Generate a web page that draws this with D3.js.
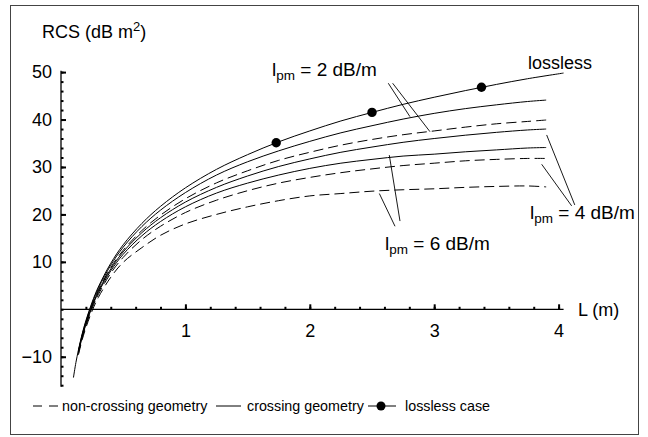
<!DOCTYPE html>
<html><head><meta charset="utf-8">
<script src="https://cdn.jsdelivr.net/npm/d3@7"></script>
<style>body{margin:0;background:#fff}text{font-family:"Liberation Sans",Arial,sans-serif;fill:#000}</style>
</head><body><svg id="c" width="648" height="437"></svg>
<script>
// ---- data ----
const xLossless = [0.1,0.12,0.14,0.17,0.2,0.25,0.3,0.4,0.5,0.65,0.8,1.0,1.25,1.5,1.75,2.0,2.25,2.5,2.75,3.0,3.25,3.5,3.75,4.04];
const lossless  = [-14.4,-11.2,-8.6,-5.2,-2.4,1.5,4.7,9.7,13.6,18.1,21.7,25.6,29.5,32.6,35.3,37.6,39.7,41.5,43.2,44.7,46.1,47.4,48.6,49.8];
const xLossy = [0.14,0.17,0.2,0.25,0.3,0.4,0.5,0.65,0.8,1.0,1.25,1.5,1.75,2.0,2.25,2.5,2.75,3.0,3.25,3.5,3.75,3.9];
const crossing2    = [-8.75,-5.37,-2.6,1.25,4.4,9.3,13.1,17.45,20.9,24.6,28.3,31.1,33.4,35.4,37.2,38.7,40.1,41.3,42.3,43.1,43.8,44.1];
const nonCrossing2 = [-8.9,-5.6,-2.85,0.9,4.0,8.8,12.45,16.6,19.85,23.3,26.65,29.2,31.4,33.1,34.6,35.8,36.8,37.6,38.4,39.1,39.6,39.9];
const crossing4    = [-9.0,-5.7,-3.0,0.75,3.8,8.5,12.1,16.15,19.3,22.6,25.7,28.1,30.1,31.7,33.1,34.2,35.2,36.0,36.7,37.3,37.8,38.0];
const crossing6    = [-9.15,-5.9,-3.2,0.5,3.5,8.1,11.6,15.5,18.5,21.6,24.5,26.6,28.3,29.7,30.8,31.6,32.3,32.7,33.2,33.6,34.0,34.1];
const nonCrossing4 = [-9.35,-6.1,-3.45,0.2,3.1,7.6,10.95,14.7,17.5,20.4,23.0,25.0,26.6,27.8,28.8,29.6,30.3,30.8,31.3,31.6,31.8,31.8];
const nonCrossing6 = [-9.6,-6.45,-3.9,-0.35,2.5,6.75,9.9,13.0,15.6,18.0,20.0,21.6,22.9,23.9,24.4,24.9,25.2,25.4,25.7,25.9,26.0,25.8];
const dotX = [1.73,2.5,3.38];
const dotY = [35.1,41.5,46.8];
const xTicks = [1,2,3,4];
const yTicks = [-10,10,20,30,40,50];
const xMinor = d3.range(0.2,4.01,0.2);
const yMinor = d3.range(-16,50.1,2);
// leader lines [x1,y1,x2,y2] in data units
const leaders2 = [[2.631,47.65,2.805,40.61],[2.666,47.65,2.966,37.44]];
const leaders4 = [[3.904,36.75,4.13,22.0],[3.864,30.57,4.105,21.8]];
const leaders6 = [[2.639,32.5,2.725,18.6],[2.559,24.4,2.685,17.5]];

const svg = d3.select('#c');
const x = d3.scaleLinear().domain([0,4]).range([61,558.6]);
const y = d3.scaleLinear().domain([0,50]).range([309.3,72.1]);

svg.append('rect').attr('x',10.5).attr('y',5.5).attr('width',628).attr('height',429)
  .attr('fill','none').attr('stroke','#444').attr('stroke-width',1);

// axes lines
svg.append('line').attr('x1',x(0)).attr('x2',x(0)).attr('y1',y(-16.3)).attr('y2',y(50.3)).attr('stroke','#000').attr('stroke-width',1.3);
svg.append('line').attr('x1',x(0)).attr('x2',x(4.04)).attr('y1',y(0)).attr('y2',y(0)).attr('stroke','#000').attr('stroke-width',1.3);

const gy = svg.append('g').attr('transform',`translate(${x(0)},0)`);
gy.call(d3.axisLeft(y).tickValues(yMinor).tickSizeInner(-2.5).tickSizeOuter(0).tickFormat(''));
gy.call(g=>g.select('.domain').remove());
const gy2 = svg.append('g').attr('transform',`translate(${x(0)},0)`);
gy2.call(d3.axisLeft(y).tickValues(yTicks).tickSizeInner(-5).tickSizeOuter(0).tickPadding(9));
gy2.select('.domain').remove();
gy2.selectAll('text').attr('font-size',18).attr('font-family','"Liberation Sans",Arial,sans-serif');

const gx = svg.append('g').attr('transform',`translate(0,${y(0)})`);
gx.call(d3.axisBottom(x).tickValues(xMinor).tickSizeInner(-2.5).tickSizeOuter(0).tickFormat(''));
gx.select('.domain').remove();
const gx2 = svg.append('g').attr('transform',`translate(0,${y(0)})`);
gx2.call(d3.axisBottom(x).tickValues(xTicks).tickSizeInner(-5).tickSizeOuter(0).tickPadding(15).tickFormat(d3.format('d')));
gx2.select('.domain').remove();
svg.selectAll('g .tick line').attr('stroke-width',2);
gx2.selectAll('text').attr('font-size',18).attr('font-family','"Liberation Sans",Arial,sans-serif');

// curves
const line = d3.line().x(d=>x(d[0])).y(d=>y(d[1])).curve(d3.curveCatmullRom);
function curve(xs, ys, dashed){
  svg.append('path').datum(xs.map((v,i)=>[v,ys[i]])).attr('d',line)
    .attr('fill','none').attr('stroke','#000').attr('stroke-width',1)
    .attr('stroke-dasharray', dashed ? '10,5' : null);
}
curve(xLossless, lossless, false);
curve(xLossy, crossing2, false);
curve(xLossy, nonCrossing2, true);
curve(xLossy, crossing4, false);
curve(xLossy, crossing6, false);
curve(xLossy, nonCrossing4, true);
curve(xLossy, nonCrossing6, true);
svg.selectAll('circle.dot').data(dotX).join('circle').attr('class','dot')
  .attr('cx',d=>x(d)).attr('cy',(d,i)=>y(dotY[i])).attr('r',4.7).attr('fill','#000');

// leaders
[leaders2,leaders4,leaders6].forEach(L=>L.forEach(l=>{
  svg.append('line').attr('x1',x(l[0])).attr('y1',y(l[1])).attr('x2',x(l[2])).attr('y2',y(l[3]))
    .attr('stroke','#000').attr('stroke-width',0.9);
}));

// texts
function lpm(px, py, val){
  const t = svg.append('text').attr('x',px).attr('y',py).attr('font-size',19);
  t.append('tspan').text('l');
  t.append('tspan').attr('font-size',13.5).attr('dy',4).text('pm');
  t.append('tspan').attr('dy',-4).text(' = ' + val + ' dB/m');
}
lpm(272,76,2);
lpm(530,219,4);
lpm(385,250,6);
svg.append('text').attr('x',528).attr('y',69).attr('font-size',18).text('lossless');
svg.append('text').attr('x',578).attr('y',316).attr('font-size',18).text('L (m)');
const yl = svg.append('text').attr('x',42).attr('y',38).attr('font-size',18);
yl.append('tspan').text('RCS (dB m');
yl.append('tspan').attr('font-size',13).attr('dy',-7).text('2');
yl.append('tspan').attr('dy',7).text(')');

// legend
const lg = svg.append('g');
lg.append('line').attr('x1',33).attr('x2',58).attr('y1',406).attr('y2',406).attr('stroke','#000').attr('stroke-dasharray','9,7');
lg.append('text').attr('x',62).attr('y',411).attr('font-size',14.3).text('non-crossing geometry');
lg.append('line').attr('x1',216).attr('x2',241).attr('y1',406).attr('y2',406).attr('stroke','#000');
lg.append('text').attr('x',247).attr('y',411).attr('font-size',14.3).text('crossing geometry');
lg.append('line').attr('x1',368).attr('x2',396).attr('y1',406).attr('y2',406).attr('stroke','#000');
lg.append('circle').attr('cx',381).attr('cy',406).attr('r',4.5).attr('fill','#000');
lg.append('text').attr('x',405).attr('y',411).attr('font-size',14.3).text('lossless case');
</script></body></html>
